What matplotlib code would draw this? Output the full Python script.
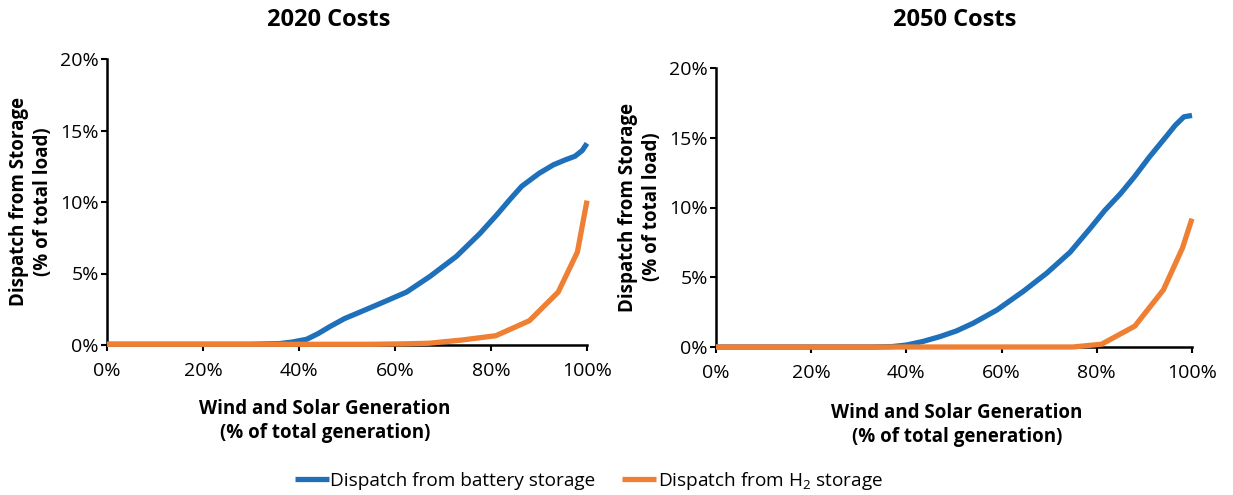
import matplotlib
matplotlib.use('Agg')
import matplotlib.pyplot as plt
from matplotlib.ticker import FuncFormatter

plt.rcParams['font.family'] = ['Open Sans', 'DejaVu Sans']
plt.rcParams['mathtext.fontset'] = 'custom'
plt.rcParams['mathtext.rm'] = 'Open Sans'

# 2020 costs (x = wind+solar share %, y = dispatch % of load)
x20_batt = [0, 10, 20, 30, 36, 38.5, 41.6, 44, 46.5, 49.5, 52.7, 57.6, 62.4, 67.3, 72.8, 77.7,
            81.2, 84, 86.4, 90, 93, 95.5, 97.5, 99, 100]
y20_batt = [0.05, 0.05, 0.05, 0.05, 0.1, 0.2, 0.4, 0.8, 1.3, 1.85, 2.3, 3.0, 3.7, 4.8, 6.2, 7.8,
            9.1, 10.2, 11.1, 12.0, 12.6, 12.95, 13.2, 13.6, 14.1]
x20_h2 = [0, 20, 40, 55, 62, 67, 74, 81, 88, 94, 98, 100]
y20_h2 = [0.05, 0.05, 0.05, 0.05, 0.08, 0.12, 0.35, 0.65, 1.7, 3.7, 6.5, 10.1]

# 2050 costs
x50_batt = [0, 10, 20, 30, 33, 37, 40, 43.5, 47, 50.5, 54, 59, 64.6, 69.5, 74.4, 78.6, 81.7,
            85, 87.9, 91, 94.6, 96.5, 98.3, 100]
y50_batt = [0, 0, 0, 0, 0, 0.03, 0.14, 0.4, 0.74, 1.15, 1.7, 2.65, 4.0, 5.3, 6.8, 8.5, 9.8,
            11.0, 12.2, 13.6, 15.1, 15.9, 16.5, 16.6]
x50_h2 = [0, 20, 40, 60, 75, 81, 88, 94, 98, 100]
y50_h2 = [0, 0, 0, 0, 0, 0.2, 1.5, 4.1, 7.1, 9.2]

panels = [
    ('2020 Costs', x20_batt, y20_batt, x20_h2, y20_h2),
    ('2050 Costs', x50_batt, y50_batt, x50_h2, y50_h2),
]

blue = '#1F70BA'
orange = '#EE7F33'

W, H = 1233, 495
fig = plt.figure(figsize=(W / 100, H / 100), dpi=100)
ax1 = fig.add_axes([107 / W, 150 / H, 480 / W, 286 / H])
ax2 = fig.add_axes([716 / W, 148 / H, 476 / W, 279 / H])

pct = FuncFormatter(lambda v, p: f'{v:.0f}%')

for ax, (title, xb, yb, xh, yh) in zip([ax1, ax2], panels):
    lb, = ax.plot(xb, yb, color=blue, lw=3.8, solid_capstyle='butt',
                  solid_joinstyle='round', clip_on=False, zorder=3)
    lh, = ax.plot(xh, yh, color=orange, lw=3.8, solid_capstyle='butt',
                  solid_joinstyle='round', clip_on=False, zorder=4)
    ax.set_xlim(0, 100)
    ax.set_ylim(0, 20)
    ax.set_xticks(range(0, 101, 20))
    ax.set_yticks(range(0, 21, 5))
    ax.xaxis.set_major_formatter(pct)
    ax.yaxis.set_major_formatter(pct)
    for s in ['top', 'right']:
        ax.spines[s].set_visible(False)
    for s in ['left', 'bottom']:
        ax.spines[s].set_linewidth(1.8)
    ax.tick_params(axis='both', direction='out', length=4, width=1.5, labelsize=14)
    ax.tick_params(axis='x', pad=8)
    ax.tick_params(axis='y', pad=2)

# titles and axis labels
fig.text(329 / W, 1 - 20 / H, '2020 Costs', fontsize=17, fontweight='bold', ha='center', va='center')
fig.text(955 / W, 1 - 20 / H, '2050 Costs', fontsize=17, fontweight='bold', ha='center', va='center')

xlab = 'Wind and Solar Generation\n(% of total generation)'
ylab = 'Dispatch from Storage\n(% of total load)'
fig.text(325 / W, 1 - 421 / H, xlab, fontsize=13.5, fontweight='bold', ha='center', va='center',
         multialignment='center', linespacing=1.25)
fig.text(957 / W, 1 - 425 / H, xlab, fontsize=13.5, fontweight='bold', ha='center', va='center',
         multialignment='center', linespacing=1.25)
fig.text(31 / W, 1 - 202 / H, ylab, fontsize=13.5, fontweight='bold', ha='center', va='center',
         rotation=90, multialignment='center', linespacing=1.25)
fig.text(640 / W, 1 - 207 / H, ylab, fontsize=13.5, fontweight='bold', ha='center', va='center',
         rotation=90, multialignment='center', linespacing=1.25)

fig.legend([lb, lh], ['Dispatch from battery storage', 'Dispatch from H$_2$ storage'],
           loc='center', bbox_to_anchor=(589 / W, 1 - 481 / H), ncol=2, frameon=False,
           fontsize=13.7, handlelength=1.75, handletextpad=0.1, columnspacing=1.4)

plt.savefig('out.png', dpi=100)
plt.close()
